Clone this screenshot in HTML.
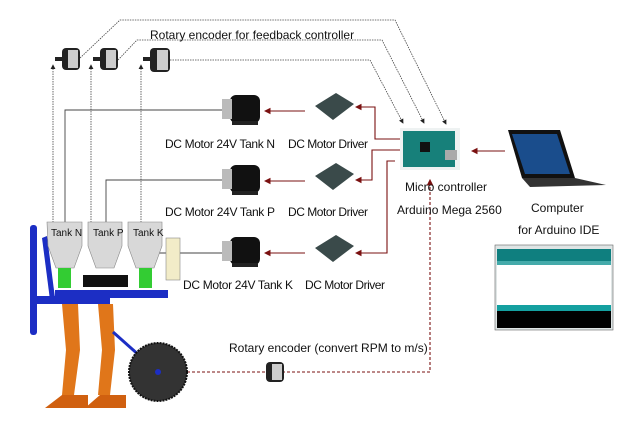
<!DOCTYPE html>
<html><head><style>
body{margin:0;background:#fff;}
svg{display:block;font-family:"Liberation Sans",sans-serif;}
</style></head><body>
<svg width="633" height="421" viewBox="0 0 633 421" xmlns="http://www.w3.org/2000/svg">
<defs>
<marker id="ak" markerWidth="6" markerHeight="6" refX="5" refY="3" orient="auto"><path d="M0,0L6,3L0,6z" fill="#222"/></marker>
<marker id="ar" markerWidth="6" markerHeight="6" refX="5" refY="3" orient="auto"><path d="M0,0L6,3L0,6z" fill="#7a1010"/></marker>
</defs>
<g fill="none" stroke="#444" stroke-width="0.8" stroke-dasharray="1.5,1">
<path d="M80,58 L120,20 L395,20 L446,124" marker-end="url(#ak)"/>
<path d="M118,60 L137,40 L382,40 L424,123" marker-end="url(#ak)"/>
<path d="M170,60 L370,60 L403,123" marker-end="url(#ak)"/>
<path d="M53,225 L53,65" marker-end="url(#ak)"/>
<path d="M91,225 L91,65" marker-end="url(#ak)"/>
<path d="M141,225 L141,65" marker-end="url(#ak)"/>
</g>
<text x="150" y="39" font-size="12" fill="#111">Rotary encoder  for feedback controller</text>
<g>
<rect x="62" y="48" width="18" height="22" rx="4" fill="#222"/><rect x="68" y="50" width="10" height="18" fill="#ccc"/><rect x="55" y="57" width="8" height="4" fill="#222"/>
<rect x="100" y="48" width="18" height="22" rx="4" fill="#222"/><rect x="106" y="50" width="10" height="18" fill="#ccc"/><rect x="93" y="57" width="8" height="4" fill="#222"/>
<rect x="150" y="48" width="20" height="24" rx="4" fill="#222"/><rect x="157" y="50" width="11" height="20" fill="#ccc"/><rect x="143" y="57" width="8" height="4" fill="#222"/>
</g>
<g fill="none" stroke="#444" stroke-width="0.9">
<path d="M222,110 L65,110 L65,258"/>
<path d="M222,180 L106,180 L106,258"/>
<path d="M222,253 L145,253 L145,258"/>
</g>
<g>
<g transform="translate(222,95)"><rect x="8" y="0" width="30" height="28" rx="6" fill="#111"/><rect x="0" y="4" width="10" height="20" fill="#bbb"/><rect x="10" y="26" width="26" height="4" fill="#222"/></g>
<g transform="translate(222,165)"><rect x="8" y="0" width="30" height="28" rx="6" fill="#111"/><rect x="0" y="4" width="10" height="20" fill="#bbb"/><rect x="10" y="26" width="26" height="4" fill="#222"/></g>
<g transform="translate(222,237)"><rect x="8" y="0" width="30" height="28" rx="6" fill="#111"/><rect x="0" y="4" width="10" height="20" fill="#bbb"/><rect x="10" y="26" width="26" height="4" fill="#222"/></g>
</g>
<g fill="#3a4a4a">
<polygon points="315,106 336,93 354,104 333,120"/>
<polygon points="315,176 336,163 354,174 333,190"/>
<polygon points="315,248 336,235 354,246 333,262"/>
</g>
<g stroke="#7a1010" stroke-width="1.1" fill="none">
<path d="M305,111 L265,111" marker-end="url(#ar)"/>
<path d="M305,181 L265,181" marker-end="url(#ar)"/>
<path d="M305,253 L265,253" marker-end="url(#ar)"/>
<path d="M400,139 L375,139 L375,107 L356,107" marker-end="url(#ar)"/>
<path d="M400,150 L372,150 L372,180 L356,180" marker-end="url(#ar)"/>
<path d="M395,161 L387,161 L387,253 L356,253" marker-end="url(#ar)"/>
<path d="M505,151 L472,151" marker-end="url(#ar)"/>
<path d="M162,372 L430,372 L430,180" stroke-dasharray="3,2" marker-end="url(#ar)"/>
</g>
<g font-size="12" fill="#111">
<text x="165" y="148" textLength="110">DC Motor 24V Tank N</text><text x="288" y="148" textLength="80">DC Motor Driver</text>
<text x="165" y="216" textLength="110">DC Motor 24V Tank P</text><text x="288" y="216" textLength="80">DC Motor Driver</text>
<text x="183" y="289" textLength="110">DC Motor 24V Tank K</text><text x="305" y="289" textLength="80">DC Motor Driver</text>
<text x="405" y="191">Micro controller</text><text x="397" y="214">Arduino Mega 2560</text>
<text x="531" y="212">Computer</text><text x="518" y="234">for Arduino IDE</text>
<text x="229" y="352">Rotary encoder  (convert RPM to m/s)</text>
</g>
<rect x="400" y="128" width="60" height="42" fill="#eef2f2"/><rect x="403" y="131" width="52" height="36" fill="#17807a"/><rect x="445" y="150" width="12" height="10" fill="#aaa"/><rect x="420" y="142" width="10" height="10" fill="#111"/>
<polygon points="508,130 560,130 575,178 522,178" fill="#111"/><polygon points="512,134 557,134 570,174 525,174" fill="#1a4d8c"/><polygon points="522,178 575,178 606,185 530,187" fill="#333"/>
<rect x="495" y="245" width="118" height="85" fill="#dfe5e5" stroke="#666" stroke-width="0.6"/>
<rect x="497" y="249" width="114" height="12" fill="#0f7f7f"/><rect x="497" y="261" width="114" height="4" fill="#4aa"/>
<rect x="497" y="265" width="114" height="40" fill="#fff"/><rect x="497" y="305" width="114" height="6" fill="#14a0a0"/><rect x="497" y="311" width="114" height="17" fill="#000"/>
<rect x="266" y="362" width="18" height="20" rx="4" fill="#222"/><rect x="272" y="364" width="10" height="16" fill="#ccc"/>
<rect x="30" y="225" width="7" height="110" rx="3" fill="#1c2ec4"/>
<polygon points="42,238 47,236 55,298 50,300" fill="#1c2ec4"/>
<rect x="37" y="296" width="73" height="8" fill="#1c2ec4"/>
<rect x="55" y="290" width="113" height="8" fill="#1c2ec4"/>
<polygon points="47,222 82,222 82,246 74,268 56,268 48,246" fill="#d8d8d8" stroke="#888" stroke-width="0.6"/>
<polygon points="88,222 122,222 122,246 114,268 96,268 88,246" fill="#d8d8d8" stroke="#888" stroke-width="0.6"/>
<polygon points="128,222 162,222 162,246 154,268 136,268 128,246" fill="#d8d8d8" stroke="#888" stroke-width="0.6"/>
<text x="51" y="236" font-size="10" fill="#111">Tank N</text><text x="93" y="236" font-size="10" fill="#111">Tank P</text><text x="133" y="236" font-size="10" fill="#111">Tank K</text>
<rect x="58" y="268" width="13" height="20" fill="#3c3"/><rect x="139" y="268" width="13" height="20" fill="#3c3"/><rect x="83" y="275" width="45" height="12" fill="#111"/>
<rect x="166" y="238" width="14" height="42" fill="#f2ecc8" stroke="#888" stroke-width="0.6"/>
<path d="M62,304 L78,304 L80,350 L74,395 L62,395 L66,350 Z" fill="#e0761a"/>
<path d="M98,304 L113,304 L115,350 L110,395 L98,395 L102,350 Z" fill="#e0761a"/>
<path d="M45,408 L62,395 L88,395 L88,408 Z" fill="#d06010"/>
<path d="M85,408 L100,395 L126,395 L126,408 Z" fill="#d06010"/>
<line x1="113" y1="332" x2="158" y2="372" stroke="#1c2ec4" stroke-width="3"/>
<circle cx="158" cy="372" r="29" fill="#333" stroke="#111" stroke-width="2" stroke-dasharray="2,1"/>
<circle cx="158" cy="372" r="3" fill="#1c2ec4"/>
</svg>
</body></html>
